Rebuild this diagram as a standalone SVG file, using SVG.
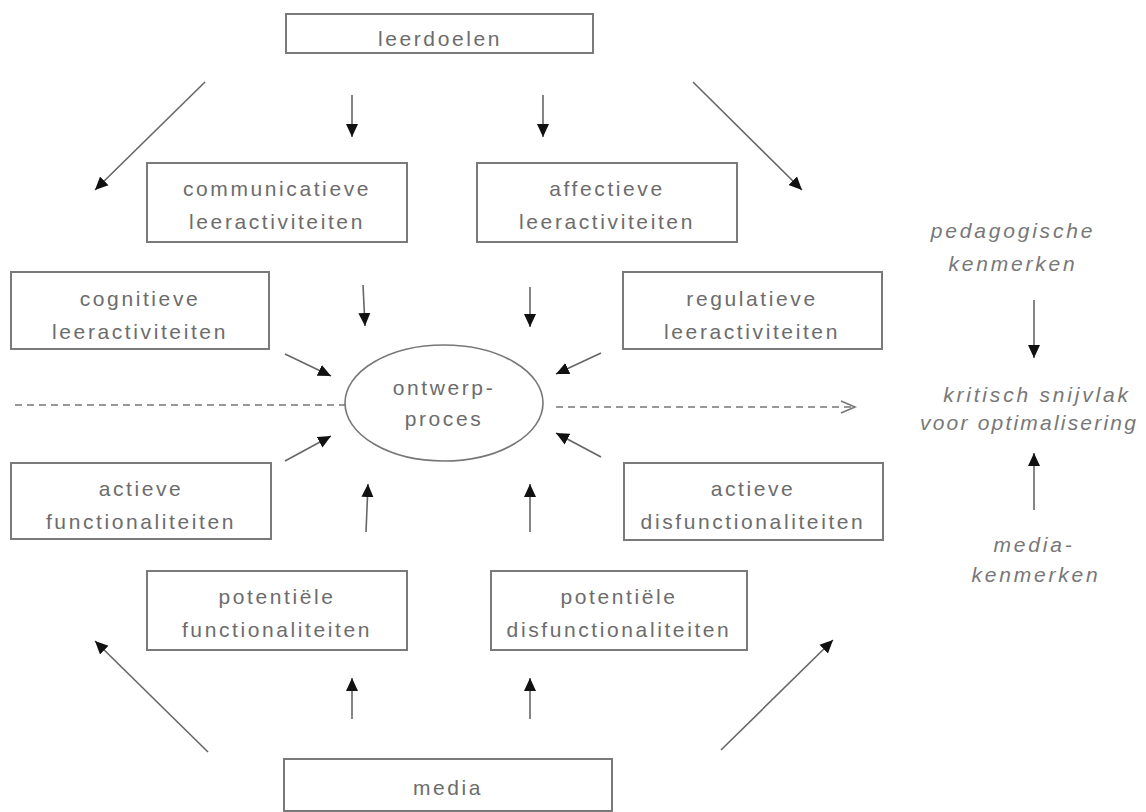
<svg xmlns="http://www.w3.org/2000/svg" width="1146" height="812" viewBox="0 0 1146 812">
<style>
.box{fill:#fff;stroke:#7a7a7a;stroke-width:2}
.t{font-family:"Liberation Sans",Arial,sans-serif;font-size:21px;fill:#6c6c6c;text-anchor:middle;letter-spacing:2.6px}
.i{font-family:"Liberation Sans",Arial,sans-serif;font-size:21px;fill:#777;text-anchor:middle;letter-spacing:2.8px;font-style:italic}
.a{stroke:#666;stroke-width:1.6;fill:none;marker-end:url(#ah)}
.d{stroke:#777;stroke-width:1.6;fill:none;stroke-dasharray:7 5}
</style>
<defs>
<marker id="ah" markerWidth="14" markerHeight="14" refX="13" refY="7" orient="auto" markerUnits="userSpaceOnUse">
<path d="M0,1 L13,7 L0,13 Z" fill="#111"/>
</marker>
</defs>
<rect width="1146" height="812" fill="#fff"/>
<g id="leerdoelen"><rect class="box" x="286" y="14" width="307" height="39"/><text class="t" x="440" y="46">leerdoelen</text></g>
<g id="communicatieve"><rect class="box" x="147" y="163" width="260" height="79"/><text class="t" x="277" y="196">communicatieve</text><text class="t" x="277" y="229">leeractiviteiten</text></g>
<g id="affectieve"><rect class="box" x="477" y="163" width="260" height="79"/><text class="t" x="607" y="196">affectieve</text><text class="t" x="607" y="229">leeractiviteiten</text></g>
<g id="cognitieve"><rect class="box" x="11" y="272" width="258" height="77"/><text class="t" x="140" y="306">cognitieve</text><text class="t" x="140" y="339">leeractiviteiten</text></g>
<g id="regulatieve"><rect class="box" x="623" y="272" width="259" height="77"/><text class="t" x="752" y="306">regulatieve</text><text class="t" x="752" y="339">leeractiviteiten</text></g>
<g id="ontwerpproces"><ellipse cx="444" cy="403" rx="99" ry="58" fill="#fff" stroke="#777" stroke-width="1.6"/><text class="t" x="444" y="395">ontwerp-</text><text class="t" x="444" y="426">proces</text></g>
<g id="actieve-functionaliteiten"><rect class="box" x="11" y="463" width="260" height="76"/><text class="t" x="141" y="496">actieve</text><text class="t" x="141" y="529">functionaliteiten</text></g>
<g id="actieve-disfunctionaliteiten"><rect class="box" x="624" y="463" width="259" height="77"/><text class="t" x="753" y="496">actieve</text><text class="t" x="753" y="529">disfunctionaliteiten</text></g>
<g id="potentiele-functionaliteiten"><rect class="box" x="147" y="571" width="260" height="79"/><text class="t" x="277" y="604">potentiële</text><text class="t" x="277" y="637">functionaliteiten</text></g>
<g id="potentiele-disfunctionaliteiten"><rect class="box" x="491" y="571" width="256" height="79"/><text class="t" x="619" y="604">potentiële</text><text class="t" x="619" y="637">disfunctionaliteiten</text></g>
<g id="media"><rect class="box" x="284" y="759" width="328" height="52"/><text class="t" x="448" y="795">media</text></g>
<g id="pedagogische-kenmerken"><text class="i" x="1013" y="238">pedagogische</text><text class="i" x="1013" y="271">kenmerken</text></g>
<g id="kritisch-snijvlak"><text class="i" x="1037" y="402">kritisch snijvlak</text><text class="i" x="920" y="430" style="text-anchor:start;letter-spacing:2.2px">voor optimalisering</text></g>
<g id="media-kenmerken"><text class="i" x="1034" y="552">media-</text><text class="i" x="1036" y="582">kenmerken</text></g>
<g id="connectors">
<line class="a" x1="352" y1="95" x2="352" y2="137"/>
<line class="a" x1="543" y1="95" x2="543" y2="137"/>
<line class="a" x1="205" y1="82" x2="95" y2="190"/>
<line class="a" x1="693" y1="82" x2="802" y2="190"/>
<line class="a" x1="363" y1="285" x2="365" y2="326"/>
<line class="a" x1="530" y1="287" x2="530" y2="327"/>
<line class="a" x1="285" y1="354" x2="331" y2="376"/>
<line class="a" x1="601" y1="353" x2="556" y2="374"/>
<line class="a" x1="285" y1="461" x2="331" y2="436"/>
<line class="a" x1="601" y1="457" x2="556" y2="433"/>
<line class="a" x1="366" y1="532" x2="368" y2="484"/>
<line class="a" x1="530" y1="532" x2="530" y2="484"/>
<line class="a" x1="352" y1="719" x2="352" y2="678"/>
<line class="a" x1="530" y1="719" x2="530" y2="678"/>
<line class="a" x1="208" y1="752" x2="95" y2="641"/>
<line class="a" x1="721" y1="750" x2="833" y2="640"/>
<line class="a" x1="1034" y1="300" x2="1034" y2="358"/>
<line class="a" x1="1034" y1="510" x2="1034" y2="453"/>
<line class="d" x1="15" y1="405" x2="345" y2="405"/>
<line class="d" x1="556" y1="407" x2="853" y2="407"/>
<path d="M841,401 L855,407 L841,413" fill="none" stroke="#777" stroke-width="1.6"/>
</g>
</svg>
